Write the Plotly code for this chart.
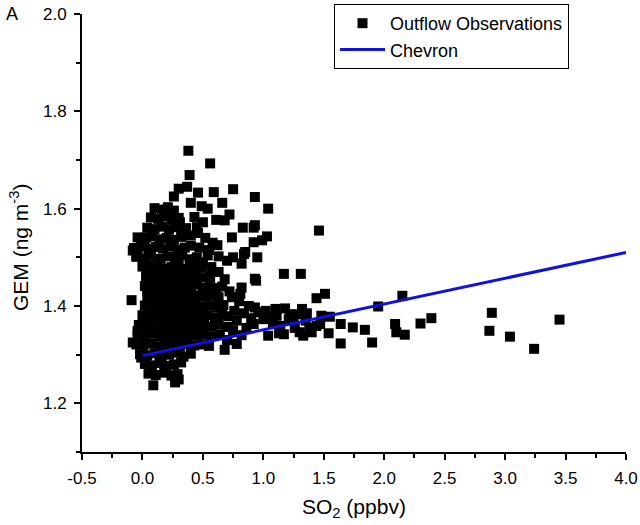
import plotly.graph_objects as go

# ---- tick labels ----
x_tick_vals = [-0.5, 0.0, 0.5, 1.0, 1.5, 2.0, 2.5, 3.0, 3.5, 4.0]
x_tick_text = ["-0.5", "0.0", "0.5", "1.0", "1.5", "2.0", "2.5", "3.0", "3.5", "4.0"]
y_tick_vals = [1.2, 1.4, 1.6, 1.8, 2.0]
y_tick_text = ["1.2", "1.4", "1.6", "1.8", "2.0"]

# ---- dense core of the outflow observations ----
core_x = [
    0.10, 0.16, 0.21, 0.26,
    0.07, 0.13, 0.19, 0.24, 0.30,
    0.04, 0.10, 0.16, 0.22, 0.28, 0.33,
    -0.04, 0.02, 0.08, 0.14, 0.20, 0.26, 0.32,
    -0.07, -0.01, 0.05, 0.11, 0.17, 0.23, 0.29, 0.35, 0.40,
    -0.05, 0.01, 0.07, 0.15, 0.21, 0.27, 0.33, 0.39, 0.45,
    0.00, 0.06, 0.12, 0.18, 0.24, 0.30, 0.36, 0.42, 0.49,
    0.03, 0.09, 0.15, 0.21, 0.27, 0.33, 0.39, 0.45, 0.51, 0.56,
    0.02, 0.08, 0.14, 0.20, 0.26, 0.32, 0.38, 0.44, 0.50, 0.56, 0.61,
    0.04, 0.10, 0.16, 0.22, 0.28, 0.34, 0.40, 0.46, 0.52, 0.58, 0.63,
    0.02, 0.08, 0.14, 0.20, 0.26, 0.32, 0.38, 0.44, 0.50, 0.56, 0.62, 0.67,
    0.00, 0.06, 0.12, 0.18, 0.24, 0.30, 0.36, 0.42, 0.48, 0.54, 0.60, 0.66, 0.71,
    -0.03, 0.03, 0.09, 0.15, 0.21, 0.27, 0.33, 0.39, 0.45, 0.51, 0.57, 0.63, 0.70,
    -0.04, 0.02, 0.08, 0.14, 0.20, 0.26, 0.32, 0.38, 0.44, 0.50, 0.57, 0.64,
    -0.05, 0.01, 0.07, 0.13, 0.19, 0.25, 0.31, 0.37, 0.43, 0.50, 0.55,
    -0.02, 0.04, 0.10, 0.16, 0.22, 0.28, 0.34, 0.40,
    0.02, 0.08, 0.14, 0.20, 0.26, 0.32,
    0.05, 0.11, 0.18, 0.24, 0.29,
    0.09, 0.27, 0.30,
]
core_y = [
    1.601, 1.598, 1.603, 1.596,
    1.582, 1.579, 1.584, 1.577, 1.581,
    1.561, 1.558, 1.563, 1.557, 1.562, 1.556,
    1.541, 1.538, 1.543, 1.537, 1.540, 1.536, 1.542,
    1.519, 1.522, 1.517, 1.521, 1.518, 1.523, 1.516, 1.520, 1.524,
    1.501, 1.498, 1.503, 1.497, 1.502, 1.499, 1.504, 1.496, 1.500,
    1.481, 1.478, 1.483, 1.477, 1.480, 1.484, 1.476, 1.482, 1.479,
    1.461, 1.458, 1.463, 1.457, 1.460, 1.464, 1.456, 1.462, 1.459, 1.461,
    1.441, 1.437, 1.443, 1.439, 1.442, 1.436, 1.440, 1.444, 1.438, 1.441, 1.437,
    1.421, 1.418, 1.423, 1.417, 1.420, 1.424, 1.416, 1.422, 1.419, 1.421, 1.418,
    1.401, 1.398, 1.403, 1.397, 1.400, 1.404, 1.396, 1.402, 1.399, 1.401, 1.398, 1.402,
    1.381, 1.377, 1.383, 1.379, 1.382, 1.376, 1.380, 1.384, 1.378, 1.381, 1.377, 1.383, 1.379,
    1.361, 1.358, 1.363, 1.357, 1.360, 1.364, 1.356, 1.362, 1.359, 1.361, 1.358, 1.363, 1.357,
    1.341, 1.338, 1.343, 1.337, 1.340, 1.344, 1.336, 1.342, 1.339, 1.341, 1.338, 1.342,
    1.321, 1.318, 1.323, 1.317, 1.320, 1.324, 1.316, 1.322, 1.319, 1.321, 1.318,
    1.301, 1.298, 1.303, 1.297, 1.300, 1.304, 1.296, 1.302,
    1.281, 1.278, 1.283, 1.277, 1.280, 1.284,
    1.261, 1.258, 1.263, 1.257, 1.260,
    1.237, 1.243, 1.249,
]

# ---- extra points filling the middle of the core ----
fill_x = [
    0.05, 0.11, 0.17, 0.23, 0.29, 0.35, 0.41,
    0.04, 0.10, 0.18, 0.24, 0.30, 0.37, 0.44,
    0.06, 0.12, 0.19, 0.25, 0.31, 0.38, 0.47,
    0.05, 0.11, 0.17, 0.23, 0.29, 0.36, 0.43,
    0.04, 0.10, 0.16, 0.22, 0.28, 0.34, 0.40,
    0.06, 0.12, 0.18, 0.24, 0.30, 0.37, 0.45,
    0.04, 0.10, 0.17, 0.23, 0.29, 0.35, 0.41,
]
fill_y = [
    1.351, 1.348, 1.352, 1.347, 1.350, 1.353, 1.349,
    1.371, 1.368, 1.372, 1.369, 1.367, 1.373, 1.370,
    1.391, 1.388, 1.392, 1.389, 1.393, 1.387, 1.390,
    1.411, 1.408, 1.412, 1.409, 1.413, 1.407, 1.410,
    1.431, 1.428, 1.432, 1.429, 1.433, 1.427, 1.430,
    1.451, 1.448, 1.452, 1.449, 1.453, 1.447, 1.450,
    1.471, 1.468, 1.472, 1.469, 1.473, 1.467, 1.470,
]

# ---- scattered points around the core ----
edge_x = [
    0.38, 0.56, 0.39, 0.37, 0.30, 0.26, 0.46, 0.59, 0.75, 0.93,
    1.04, 0.40, 0.49, 0.54, 0.66, 0.25, 0.31, 0.43, 0.50, 0.61,
    0.68, 0.72, 0.93, 0.83, 0.92, 0.45, 0.74, 0.92, 0.99, 1.03,
    0.84, 0.95, 0.54, 0.63, 0.70, 0.94, -0.09, -0.08, -0.04, -0.05,
    -0.08, -0.04, -0.01, 0.85, 0.75, 0.82, 0.93, 0.82, 0.81, 0.74,
    0.78, 0.46, 0.52, 0.58, 0.47, 0.55, 0.62, 0.50, 0.57, 0.63,
    0.68, 0.66, 0.72, 0.36, 0.40, 0.80, 0.88, 0.76, 0.84, 0.90,
    0.78, 0.86, 0.75, 0.82, 0.93, 0.96, 1.00, 0.92, 0.70, 0.68,
    0.01, 0.06, 0.01, 0.03,
]
edge_y = [
    1.719, 1.693, 1.669, 1.645, 1.641, 1.625, 1.633, 1.634, 1.640, 1.624,
    1.600, 1.612, 1.605, 1.600, 1.612, 1.586, 1.572, 1.583, 1.572, 1.577,
    1.576, 1.588, 1.566, 1.561, 1.561, 1.562, 1.541, 1.531, 1.535, 1.543,
    1.507, 1.500, 1.504, 1.502, 1.493, 1.452, 1.412, 1.514, 1.518, 1.504,
    1.325, 1.349, 1.294, 1.511, 1.500, 1.487, 1.456, 1.438, 1.425, 1.418,
    1.322, 1.550, 1.540, 1.530, 1.520, 1.515, 1.525, 1.490, 1.480, 1.470,
    1.455, 1.440, 1.430, 1.560, 1.545, 1.410, 1.400, 1.390, 1.385, 1.375,
    1.370, 1.355, 1.350, 1.340, 1.397, 1.387, 1.373, 1.363, 1.330, 1.310,
    1.483, 1.483, 1.538, 1.541,
]

# ---- tail towards higher SO2 ----
tail_x = [
    1.04, 1.08, 1.10, 1.11, 1.13, 1.14, 1.17, 1.17, 1.21, 1.22,
    1.25, 1.28, 1.30, 1.31, 1.32, 1.33, 1.40, 1.44, 1.44, 1.46,
    1.47, 1.48, 1.51, 1.54, 1.55, 1.64, 1.64, 1.74, 1.84, 1.90,
    1.95, 2.09, 2.10, 2.15, 2.17, 2.30, 2.39, 2.87, 2.89, 3.04,
    3.24, 3.45, 1.02, 1.06, 1.18, 1.26, 1.35, 1.38, 1.36,
]
tail_y = [
    1.339, 1.363, 1.394, 1.380, 1.344, 1.359, 1.342, 1.466, 1.373, 1.383,
    1.371, 1.383, 1.346, 1.466, 1.394, 1.339, 1.346, 1.416, 1.359, 1.555,
    1.363, 1.380, 1.425, 1.344, 1.378, 1.363, 1.323, 1.356, 1.351, 1.325,
    1.399, 1.363, 1.346, 1.421, 1.341, 1.364, 1.375, 1.349, 1.386, 1.337,
    1.312, 1.372, 1.390, 1.375, 1.395, 1.355, 1.370, 1.355, 1.385,
]

# ---- Chevron line ----
line_x = [0.0, 4.0]
line_y = [1.298, 1.510]

obs_x = core_x + fill_x + edge_x + tail_x
obs_y = core_y + fill_y + edge_y + tail_y

FONT = "Liberation Sans, Arial, sans-serif"

# plot area in pixels: x 82..626, y 14..452
L, R, T, B = 82, 14, 14, 73
PW = 640 - L - R
PH = 525 - T - B

fig = go.Figure()
fig.add_trace(go.Scatter(
    x=obs_x, y=obs_y, mode="markers", name="Outflow Observations",
    marker=dict(symbol="square", size=10, color="black", line=dict(width=0)),
))
fig.add_trace(go.Scatter(
    x=line_x, y=line_y, mode="lines", name="Chevron",
    line=dict(color="#1010e0", width=3),
))

axis_common = dict(
    showline=True, linecolor="black", linewidth=2,
    ticks="outside", ticklen=6, tickwidth=1.5, tickcolor="black",
    showgrid=False, zeroline=False, mirror=False, automargin=False,
    tickangle=0,
    tickfont=dict(family=FONT, size=17, color="black"),
)

fig.update_layout(
    width=640, height=525,
    margin=dict(l=L, r=R, t=T, b=B, autoexpand=False),
    paper_bgcolor="white", plot_bgcolor="white",
    font=dict(family=FONT, color="black"),
    xaxis=dict(
        range=[-0.5, 4.0], tickmode="array", tickvals=x_tick_vals, ticktext=x_tick_text,
        minor=dict(ticks="outside", ticklen=4, tickwidth=1.5, dtick=0.25, tickcolor="black"),
        ticklabelstandoff=4,
        **axis_common,
    ),
    yaxis=dict(
        range=[1.1, 2.0], tickmode="array", tickvals=y_tick_vals, ticktext=y_tick_text,
        minor=dict(ticks="outside", ticklen=4, tickwidth=1.5, tickvals=[1.1, 1.3, 1.5, 1.7, 1.9], tickcolor="black"),
        ticklabelstandoff=4,
        **axis_common,
    ),
    legend=dict(
        x=(334 - 82) / PW, y=1 + 10 / PH, xanchor="left", yanchor="top",
        bordercolor="black", borderwidth=1, bgcolor="white",
        font=dict(family=FONT, size=18, color="black"),
        itemwidth=45, tracegroupgap=0,
    ),
    showlegend=True,
    annotations=[
        dict(text="A", xref="paper", yref="paper",
             x=(12 - 82) / PW, y=1.0, xanchor="center", yanchor="middle",
             showarrow=False, font=dict(family=FONT, size=18, color="black")),
        dict(text="SO<sub>2</sub> (ppbv)", xref="paper", yref="paper",
             x=0.5, y=-(508 - 452) / PH, xanchor="center", yanchor="middle",
             showarrow=False, font=dict(family=FONT, size=21, color="black")),
        dict(text="GEM (ng m<sup>-3</sup>)", xref="paper", yref="paper",
             x=(19 - 82) / PW, y=(452 - 248) / PH, xanchor="center", yanchor="middle",
             textangle=-90, showarrow=False,
             font=dict(family=FONT, size=21, color="black")),
    ],
)

fig.write_html(
    "out.html",
    config={"displayModeBar": False},
    post_script="document.body.style.margin='0';document.body.style.overflow='hidden';",
)
